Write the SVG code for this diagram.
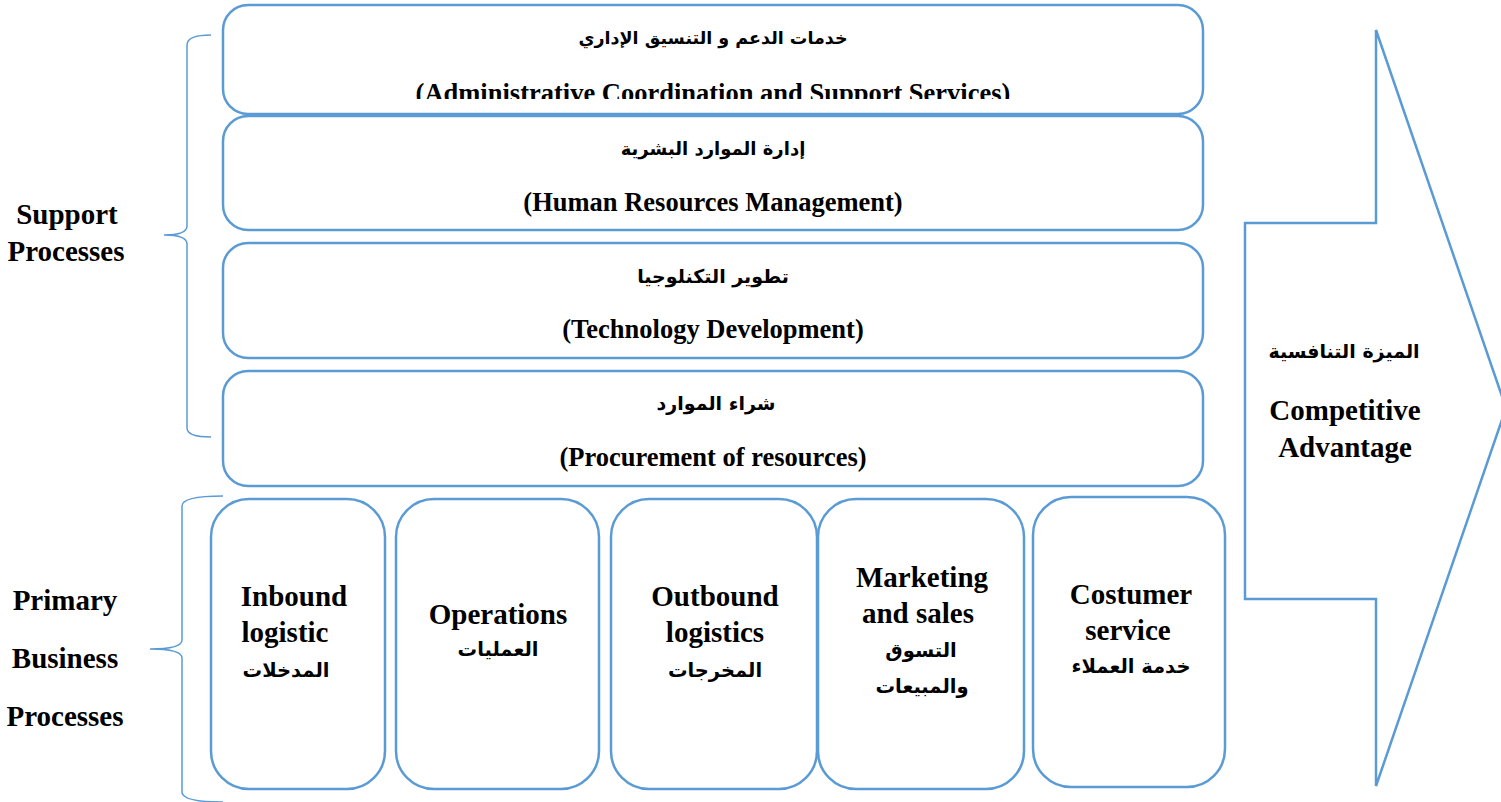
<svg xmlns="http://www.w3.org/2000/svg" width="1501" height="802" viewBox="0 0 1501 802">
<style>
.box{fill:#fff;stroke:#5B9BD5;stroke-width:2.5}
.brace{fill:none;stroke:#5B9BD5;stroke-width:1.5}
.en{font-family:"Liberation Serif","Times New Roman",serif;font-weight:bold;font-size:26.5px;fill:#000;text-anchor:middle}
.big{font-family:"Liberation Serif","Times New Roman",serif;font-weight:bold;font-size:29px;fill:#000;text-anchor:middle}
.ar{font-family:"DejaVu Sans",sans-serif;font-weight:bold;font-size:19px;fill:#000;text-anchor:middle}
.arb{font-family:"DejaVu Sans",sans-serif;font-weight:bold;font-size:19.5px;fill:#000;text-anchor:middle}
</style>
<defs>
<clipPath id="clip1"><rect x="223" y="5" width="980" height="94"/></clipPath>
</defs>
<rect width="1501" height="802" fill="#fff"/>

<g id="braces">
<path class="brace" d="M211,35 Q187,35 187,45 L187,226 Q187,235 164,235 Q187,235 187,244 L187,428 Q187,437 211,437"/>
<path class="brace" d="M223,496 Q182,496 182,506 L182,640 Q182,649 150,649 Q182,649 182,658 L182,792 Q182,802 223,802"/>
</g>

<g id="label-support">
<text class="big" x="67" y="224">Support</text>
<text class="big" x="66" y="261">Processes</text>
</g>
<g id="label-primary">
<text class="big" x="65" y="610">Primary</text>
<text class="big" x="65" y="668">Business</text>
<text class="big" x="65" y="726">Processes</text>
</g>

<g id="admin-support">
<rect class="box" x="223" y="5" width="980" height="109" rx="25"/>
<text class="ar" x="713" y="44" style="font-size:17.5px">خدمات الدعم و التنسيق الإداري</text>
<text class="en" x="713" y="102" clip-path="url(#clip1)">(Administrative Coordination and Support Services)</text>
</g>
<g id="hrm">
<rect class="box" x="223" y="116" width="980" height="114" rx="25"/>
<text class="ar" x="713" y="155" style="font-size:18px">إدارة الموارد البشرية</text>
<text class="en" x="713" y="211">(Human Resources Management)</text>
</g>
<g id="tech-dev">
<rect class="box" x="223" y="243" width="980" height="115" rx="25"/>
<text class="ar" x="713" y="283">تطوير التكنلوجيا</text>
<text class="en" x="713" y="338">(Technology Development)</text>
</g>
<g id="procurement">
<rect class="box" x="223" y="371" width="980" height="115" rx="25"/>
<text class="ar" x="716" y="410">شراء الموارد</text>
<text class="en" x="713" y="466">(Procurement of resources)</text>
</g>

<g id="inbound">
<rect class="box" x="211" y="499" width="174" height="290" rx="38"/>
<text class="big" x="294" y="606">Inbound</text>
<text class="big" x="285" y="642">logistic</text>
<text class="arb" x="286" y="677">المدخلات</text>
</g>
<g id="operations">
<rect class="box" x="396" y="499" width="203" height="290" rx="38"/>
<text class="big" x="498" y="624">Operations</text>
<text class="arb" x="498" y="656">العمليات</text>
</g>
<g id="outbound">
<rect class="box" x="611" y="499" width="206" height="290" rx="38"/>
<text class="big" x="715" y="606">Outbound</text>
<text class="big" x="715" y="642">logistics</text>
<text class="arb" x="715" y="677">المخرجات</text>
</g>
<g id="marketing">
<rect class="box" x="818" y="499" width="206" height="290" rx="38"/>
<text class="big" x="922" y="587">Marketing</text>
<text class="big" x="918" y="623">and sales</text>
<text class="arb" x="921" y="657">التسوق</text>
<text class="arb" x="922" y="693">والمبيعات</text>
</g>
<g id="customer">
<rect class="box" x="1033" y="497" width="192" height="290" rx="38"/>
<text class="big" x="1131" y="604">Costumer</text>
<text class="big" x="1128" y="640">service</text>
<text class="arb" x="1131" y="673">خدمة العملاء</text>
</g>

<g id="competitive-advantage">
<polygon class="box" points="1245,223 1376,223 1376,30 1506,408 1376,786 1376,599 1245,599"/>
<text class="ar" x="1344" y="358">الميزة التنافسية</text>
<text class="big" x="1345" y="420">Competitive</text>
<text class="big" x="1345" y="457">Advantage</text>
</g>
</svg>
